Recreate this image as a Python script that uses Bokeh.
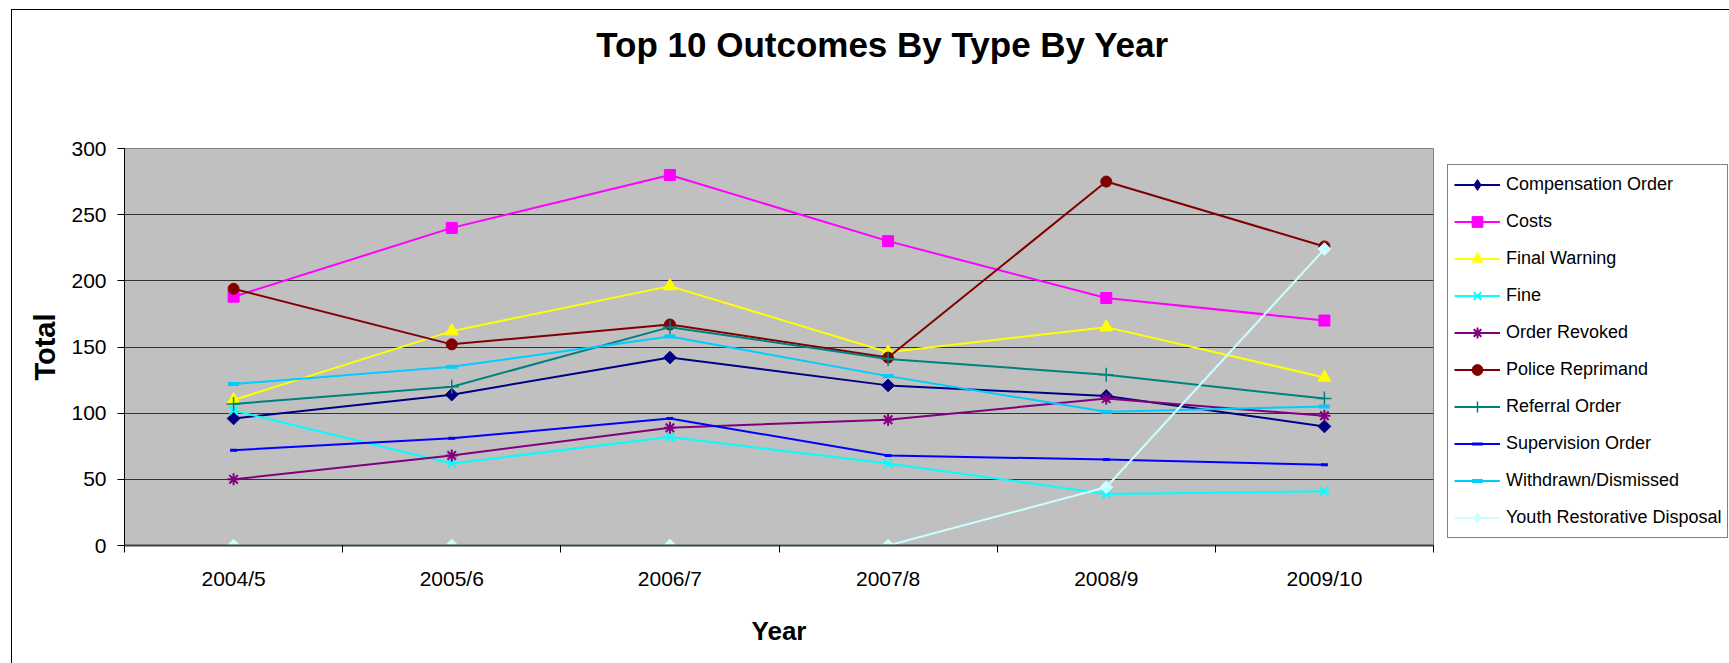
from bokeh.plotting import figure
from bokeh.models import Range1d, FixedTicker, Legend, LegendItem, Label
from bokeh.layouts import column, row
from bokeh.embed import file_html
from bokeh.resources import INLINE
import math

# ---- data -------------------------------------------------------------
years = ["2004/5", "2005/6", "2006/7", "2007/8", "2008/9", "2009/10"]

compensation_order = [96, 114, 142, 121, 113, 90]
costs = [188, 240, 280, 230, 187, 170]
final_warning = [110, 162, 196, 146, 165, 127]
fine = [102, 62, 82, 62, 39, 41]
order_revoked = [50, 68, 89, 95, 111, 98]
police_reprimand = [194, 152, 167, 142, 275, 226]
referral_order = [107, 120, 165, 141, 129, 111]
supervision_order = [72, 81, 96, 68, 65, 61]
withdrawn_dismissed = [122, 135, 158, 128, 101, 105]
youth_restorative = [0, 0, 0, 0, 44, 224]

y_ticks = [0, 50, 100, 150, 200, 250, 300]

# (label, values, colour, marker, size, angle, marker line width)
series = [
    ("Compensation Order", compensation_order, "#000080", "square", 9, math.pi / 4, 1),
    ("Costs", costs, "#FF00FF", "square", 11, 0, 1),
    ("Final Warning", final_warning, "#FFFF00", "triangle", 13, 0, 1),
    ("Fine", fine, "#00FFFF", "x", 12, 0, 2),
    ("Order Revoked", order_revoked, "#800080", "asterisk", 12, 0, 2),
    ("Police Reprimand", police_reprimand, "#800000", "circle", 11, 0, 1),
    ("Referral Order", referral_order, "#008080", "cross", 14, 0, 1.5),
    ("Supervision Order", supervision_order, "#0000FF", "dash", 7, 0, 3),
    ("Withdrawn/Dismissed", withdrawn_dismissed, "#00CCFF", "dash", 11, 0, 4),
    ("Youth Restorative Disposal", youth_restorative, "#CCFFFF", "square", 9, math.pi / 4, 1),
]

# each year sits in the middle of its own category slot
x_pos = [i + 0.5 for i in range(len(years))]

FONT = "Liberation Sans"
HEAD_H = 126
BODY_H = 527
BORDER_TOP = 12
BORDER_BOTTOM = 118


def blank_figure(width, height, **kw):
    f = figure(width=width, height=height, output_backend="svg",
               toolbar_location=None, title=None,
               x_axis_location=None, y_axis_location=None,
               x_range=Range1d(0, width), y_range=Range1d(0, height), **kw)
    f.outline_line_color = None
    f.background_fill_color = "white"
    f.border_fill_color = "white"
    f.grid.visible = False
    return f


# ---- title strip (data units = pixels) --------------------------------
head = blank_figure(1717, HEAD_H, min_border=0)
head.add_layout(Label(x=870, y=HEAD_H - 34,
                      text="Top 10 Outcomes By Type By Year",
                      text_font=FONT, text_font_size="35px",
                      text_font_style="bold", text_align="center",
                      text_baseline="middle", text_color="black"))

# ---- main plot --------------------------------------------------------
p = figure(width=1428, height=BODY_H, output_backend="svg", toolbar_location=None,
           title=None, x_range=Range1d(0, len(years)), y_range=Range1d(0, 300),
           min_border_left=112, min_border_right=7,
           min_border_top=BORDER_TOP, min_border_bottom=BORDER_BOTTOM)

p.background_fill_color = "#C0C0C0"
p.border_fill_color = "white"
p.outline_line_color = "#808080"
p.outline_line_width = 1

xax = p.xaxis[0]
xax.ticker = FixedTicker(ticks=x_pos, minor_ticks=list(range(len(years) + 1)))
xax.major_label_overrides = {x: y for x, y in zip(x_pos, years)}
xax.major_tick_out = 0
xax.major_tick_in = 0
xax.minor_tick_out = 7
xax.minor_tick_in = 0
xax.minor_tick_line_color = "black"
xax.axis_line_color = "#404040"
xax.axis_line_width = 2
xax.major_label_text_font = FONT
xax.major_label_text_font_size = "21px"
xax.major_label_text_color = "black"
xax.major_label_standoff = 14
xax.axis_label = "Year"
xax.axis_label_text_font = FONT
xax.axis_label_text_font_size = "26px"
xax.axis_label_text_font_style = "bold"
xax.axis_label_text_color = "black"
xax.axis_label_standoff = 23

yax = p.yaxis[0]
yax.ticker = FixedTicker(ticks=y_ticks)
yax.minor_tick_line_color = None
yax.major_tick_out = 7
yax.major_tick_in = 0
yax.major_tick_line_color = "black"
yax.axis_line_color = "black"
yax.major_label_text_font = FONT
yax.major_label_text_font_size = "21px"
yax.major_label_text_color = "black"
yax.major_label_standoff = 11
yax.axis_label = "Total"
yax.axis_label_text_font = FONT
yax.axis_label_text_font_size = "29px"
yax.axis_label_text_font_style = "bold"
yax.axis_label_text_color = "black"
yax.axis_label_standoff = 7

p.xgrid.visible = False
p.ygrid.ticker = FixedTicker(ticks=y_ticks)
p.ygrid.grid_line_color = "#333333"
p.ygrid.grid_line_width = 1

# ---- legend strip (same vertical borders as the main plot) ------------
side = blank_figure(289, BODY_H, min_border_left=0, min_border_right=0,
                    min_border_top=BORDER_TOP, min_border_bottom=BORDER_BOTTOM)

items = []
for label, vals, color, marker, size, angle, mlw in series:
    p.line(x_pos, vals, line_color=color, line_width=2)
    p.scatter(x_pos, vals, marker=marker, size=size, angle=angle,
              fill_color=color, line_color=color, line_width=mlw)
    # key glyphs for the legend strip (kept outside its view)
    key_marker = "diamond" if angle else marker
    kl = side.line([-50, -40], [-50, -50], line_color=color, line_width=2)
    ks = side.scatter([-50], [-50], marker=key_marker, size=size,
                      fill_color=color, line_color=color, line_width=mlw)
    items.append(LegendItem(label=label, renderers=[kl, ks]))

legend = Legend(items=items, location="bottom_left")
legend.border_line_color = "black"
legend.border_line_width = 1
legend.background_fill_color = "white"
legend.background_fill_alpha = 1
legend.label_text_font = FONT
legend.label_text_font_size = "18px"
legend.label_text_color = "black"
legend.glyph_width = 46
legend.glyph_height = 27
legend.label_height = 20
legend.label_standoff = 6
legend.spacing = 10
legend.padding = 6
legend.margin = 7
side.add_layout(legend)

# chart box: border along its top and left edges
page = column(head, row(p, side), margin=(9, 0, 0, 11),
              styles={"border-left": "1px solid black",
                      "border-top": "1px solid black"})

open("out.html", "w").write(file_html(page, INLINE))
